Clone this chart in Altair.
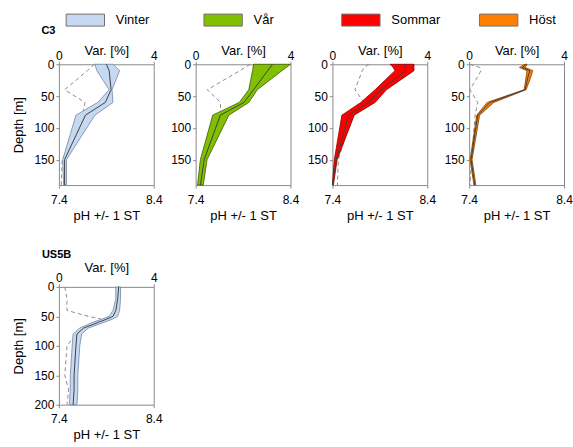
import altair as alt
import pandas as pd

SEASONS = ["Vinter", "Vår", "Sommar", "Höst"]
FILL_COLORS = ["#c6d9f1", "#80c000", "#ff0000", "#ff8000"]
EDGE_COLORS = {"Vinter": "#6f88a8", "Vår": "#3d5c00", "Sommar": "#800000", "Höst": "#804000"}

# ---- C3, Vinter ----
C3_VINTER_DEPTH = [0, 10, 40, 60, 80, 150, 190]
C3_VINTER_LOW = [7.78, 7.80, 7.93, 7.81, 7.58, 7.44, 7.45]
C3_VINTER_MEAN = [7.90, 7.93, 7.95, 7.89, 7.68, 7.46, 7.46]
C3_VINTER_HIGH = [7.97, 8.04, 7.96, 7.97, 7.78, 7.48, 7.48]
C3_VINTER_VAR = [1.50, 1.20, 0.24, 1.10, 1.00, 0.14, 0.10]

# ---- C3, Vår ----
C3_VAR_DEPTH = [0, 10, 40, 60, 80, 150, 190]
C3_VAR_LOW = [8.01, 8.00, 7.96, 7.86, 7.58, 7.45, 7.42]
C3_VAR_MEAN = [8.21, 8.16, 8.01, 7.91, 7.66, 7.49, 7.45]
C3_VAR_HIGH = [8.40, 8.31, 8.05, 7.96, 7.75, 7.52, 7.48]
C3_VAR_VAR = [2.30, 1.87, 0.49, 1.05, 1.05, 0.35, 0.21]

# ---- C3, Sommar ----
C3_SOMMAR_DEPTH = [0, 5, 10, 40, 60, 80, 150, 190]
C3_SOMMAR_LOW = [8.01, 8.04, 8.06, 7.85, 7.70, 7.50, 7.42, 7.40]
C3_SOMMAR_MEAN = [8.15, 8.17, 8.17, 7.91, 7.78, 7.57, 7.44, 7.40]
C3_SOMMAR_HIGH = [8.26, 8.26, 8.26, 7.97, 7.85, 7.63, 7.45, 7.41]
C3_SOMMAR_VAR = [1.54, 1.33, 1.26, 0.95, 1.33, 0.80, 0.25, 0.21]

# ---- C3, Höst ----
C3_HOST_DEPTH = [0, 5, 10, 20, 40, 60, 80, 150, 190]
C3_HOST_LOW = [7.99, 7.93, 8.01, 8.00, 7.98, 7.59, 7.48, 7.41, 7.45]
C3_HOST_MEAN = [8.00, 7.96, 8.04, 8.02, 7.99, 7.62, 7.49, 7.42, 7.46]
C3_HOST_HIGH = [8.01, 7.99, 8.07, 8.05, 8.00, 7.66, 7.51, 7.43, 7.47]
C3_HOST_VAR = [0.03, 0.45, 0.50, 0.35, 0.03, 0.36, 0.25, 0.10, 0.03]

# ---- US5B, Vinter ----
US5B_DEPTH = [0, 20, 40, 50, 55, 60, 70, 80, 100, 150, 175, 200]
US5B_LOW = [8.00, 8.00, 7.97, 7.93, 7.85, 7.76, 7.62, 7.55, 7.54, 7.52, 7.52, 7.51]
US5B_MEAN = [8.03, 8.02, 8.00, 7.97, 7.90, 7.82, 7.66, 7.59, 7.58, 7.56, 7.56, 7.55]
US5B_HIGH = [8.05, 8.05, 8.04, 8.02, 7.96, 7.88, 7.71, 7.64, 7.62, 7.60, 7.60, 7.59]
US5B_VAR = [0.25, 0.34, 0.34, 1.24, 1.80, 1.50, 0.97, 0.72, 0.34, 0.25, 0.41, 0.34]

FONT = "Liberation Sans"


def make_df(depth, low, mean, high, var, season):
    return pd.DataFrame({"depth": depth, "low": low, "mean": mean,
                         "high": high, "var": var, "season": season})


def panel(df, season, ymax, yvals, ytitle, height, title_pad):
    base = alt.Chart(df)
    ysc = alt.Scale(domain=[0, ymax], reverse=True, nice=False)
    yaxis = alt.Axis(values=yvals, title=ytitle if ytitle else None)
    var_line = base.mark_line(color="#8c8c8c", strokeDash=[4, 3], strokeWidth=1).encode(
        x=alt.X("var:Q", scale=alt.Scale(domain=[0, 4], nice=False),
                axis=alt.Axis(orient="top", values=[0, 4], title="Var. [%]",
                              labelPadding=-1, titlePadding=title_pad, labelFlush=False)),
        y=alt.Y("depth:Q", scale=ysc, axis=yaxis),
        order=alt.Order("depth:Q"),
    )
    band = base.mark_area(orient="horizontal", stroke=EDGE_COLORS[season],
                          strokeWidth=0.8, opacity=1).encode(
        x=alt.X("low:Q", scale=alt.Scale(domain=[7.4, 8.4], nice=False),
                axis=alt.Axis(orient="bottom", values=[7.4, 8.4], format=".1f",
                              title="pH +/- 1 ST", labelFlush=False,
                              labelPadding=6, titlePadding=4)),
        x2="high:Q",
        y=alt.Y("depth:Q", scale=ysc, axis=yaxis),
        fill=alt.Fill("season:N", scale=alt.Scale(domain=SEASONS, range=FILL_COLORS),
                      legend=alt.Legend(title=None, orient="none", direction="horizontal",
                                        columns=4, legendX=7, legendY=-57,
                                        symbolType="M-1.6,-0.5H1.6V0.5H-1.6Z",
                                        symbolSize=576, symbolOffset=7,
                                        labelOffset=18, gridAlign="all",
                                        columnPadding=36, symbolStrokeColor="#707070",
                                        symbolStrokeWidth=1, labelFontSize=13,
                                        symbolOpacity=1)),
    )
    mean_line = base.mark_line(color="#404040", strokeWidth=1).encode(
        x=alt.X("mean:Q", scale=alt.Scale(domain=[7.4, 8.4], nice=False), axis=None),
        y=alt.Y("depth:Q", scale=ysc, axis=yaxis),
        order=alt.Order("depth:Q"),
    )
    return alt.layer(var_line, band, mean_line).resolve_scale(x="independent").properties(
        width=95, height=height)


p1 = panel(make_df(C3_VINTER_DEPTH, C3_VINTER_LOW, C3_VINTER_MEAN, C3_VINTER_HIGH,
                   C3_VINTER_VAR, "Vinter"), "Vinter", 190, [0, 50, 100, 150], "Depth [m]", 121, -8)
p2 = panel(make_df(C3_VAR_DEPTH, C3_VAR_LOW, C3_VAR_MEAN, C3_VAR_HIGH,
                   C3_VAR_VAR, "Vår"), "Vår", 190, [0, 50, 100, 150], "", 121, -8)
p3 = panel(make_df(C3_SOMMAR_DEPTH, C3_SOMMAR_LOW, C3_SOMMAR_MEAN, C3_SOMMAR_HIGH,
                   C3_SOMMAR_VAR, "Sommar"), "Sommar", 190, [0, 50, 100, 150], "", 121, -8)
p4 = panel(make_df(C3_HOST_DEPTH, C3_HOST_LOW, C3_HOST_MEAN, C3_HOST_HIGH,
                   C3_HOST_VAR, "Höst"), "Höst", 190, [0, 50, 100, 150], "", 121, -8)
p5 = panel(make_df(US5B_DEPTH, US5B_LOW, US5B_MEAN, US5B_HIGH,
                   US5B_VAR, "Vinter"), "Vinter", 200, [0, 50, 100, 150, 200], "Depth [m]", 118, -3)

top = alt.hconcat(p1, p2, p3, p4, spacing=7).properties(
    title=alt.Title("C3", anchor="start", dx=29, fontSize=11, fontWeight="bold", offset=8))
bottom = p5.properties(
    title=alt.Title("US5B", anchor="start", dx=29, fontSize=11, fontWeight="bold", offset=2))

chart = alt.vconcat(top, bottom, spacing=25).properties(
    padding={"left": 12, "top": 7, "right": 0, "bottom": 0}
).configure(font=FONT).configure_view(
    stroke="#8a8a8a", strokeWidth=1
).configure_axis(
    grid=False, domain=False, ticks=True, tickSize=3, tickColor="#8a8a8a",
    labelFontSize=12, labelColor="#000", titleFontSize=13, titleFontWeight="normal",
    titleColor="#000", labelPadding=2, titlePadding=2, labelFont=FONT, titleFont=FONT
).configure_axisLeft(
    titlePadding=8
).configure_legend(
    labelFont=FONT, labelColor="#000"
).configure_title(font=FONT, color="#000")

chart.save("out.html", embed_options={"renderer": "svg", "actions": False})
